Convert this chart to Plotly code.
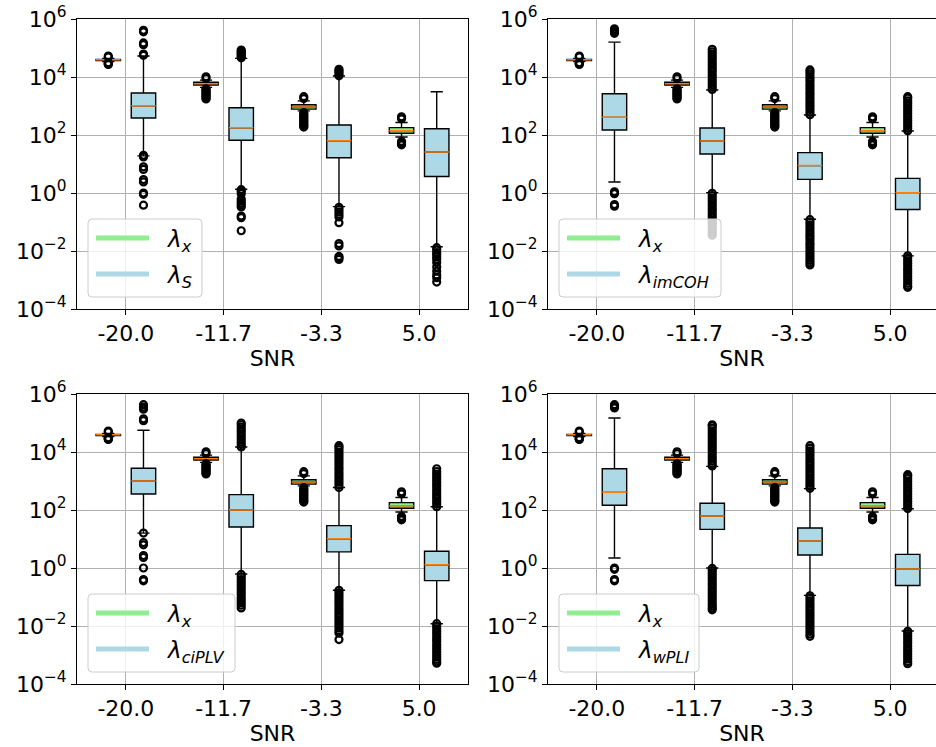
import plotly.graph_objects as go

SNR_LABELS = ["-20.0", "-11.7", "-3.3", "5.0"]

# lambda_x : shared reference distribution (green boxes)
X_Q1 = [3.7e4, 5.3e3, 780, 115]
X_MED = [3.9e4, 5.9e3, 920, 141]
X_Q3 = [4.05e4, 6.6e3, 1100, 180]
X_LOW = [3.4e4, 4.4e3, 680, 85]
X_HIGH = [4.4e4, 7.8e3, 1500, 270]
X_OUT = [
    [5.3e4, 4.9e4, 3.1e4, 2.95e4, 2.8e4, 2.7e4],
    [1.02e4, 8.8e3, 3.9e3, 3.6e3, 3.3e3, 3.0e3, 2.75e3, 2.5e3, 2.3e3, 2.1e3, 1.9e3, 1.75e3],
    [2.1e3, 1.8e3, 590, 530, 475, 425, 385, 345, 310, 280, 250, 225, 205, 188],
    [425, 360, 60, 55, 50, 46],
]

# lambda_S
S_Q1 = [385, 66, 16.5, 3.7]
S_MED = [1020, 178, 63, 26]
S_Q3 = [2800, 870, 221, 165]
S_LOW = [19, 1.34, 0.34, 0.014]
S_HIGH = [5.3e4, 4.4e4, 1.08e4, 3100]
S_OUT = [
    [5.6e4, 6.2e4, 1.3e5, 1.5e5, 3.6e5, 4.1e5, 20, 17.5, 8.0, 6.5, 2.9, 2.4, 1.0, 0.9, 0.38],
    [4.6e4, 5.1e4, 5.7e4, 6.3e4, 7.0e4, 7.7e4, 8.5e4, 1.3, 1.15, 0.95, 0.62, 0.52, 0.44, 0.38, 0.33,
     0.16, 0.14, 0.05],
    [1.1e4, 1.25e4, 1.45e4, 1.65e4, 1.85e4, 0.32, 0.27, 0.22, 0.18, 0.15, 0.095, 0.018, 0.015,
     0.0065, 0.0058, 0.0051],
    [0.013, 0.011, 0.0088, 0.0075, 0.0062, 0.0052, 0.004, 0.0028, 0.002, 0.0015, 0.0012, 0.00085],
]

# lambda_imCOH
IMCOH_Q1 = [149, 22, 2.96, 0.27]
IMCOH_MED = [406, 62, 8.8, 1.03]
IMCOH_Q3 = [2660, 174, 24.6, 3.2]
IMCOH_LOW = [2.4, 1.03, 0.124, 0.0068]
IMCOH_HIGH = [1.6e5, 3570, 490, 137]
IMCOH_OUT = [
    [3.2e5, 3.6e5, 4.1e5, 4.6e5, 1.1, 0.95, 0.4, 0.35],
    [3.7e3, 4.4e3, 5.4e3, 6.6e3, 8.1e3, 1.0e4, 1.2e4, 1.5e4, 1.8e4, 2.2e4, 2.7e4, 3.3e4, 4.1e4,
     5.0e4, 6.1e4, 7.4e4, 9.0e4,
     0.98, 0.82, 0.67, 0.55, 0.45, 0.37, 0.30, 0.25, 0.2, 0.165, 0.135, 0.11, 0.09, 0.074, 0.06,
     0.05, 0.042, 0.035],
    [500, 610, 750, 920, 1.1e3, 1.35e3, 1.65e3, 2.0e3, 2.5e3, 3.0e3, 3.7e3, 4.5e3, 5.5e3, 6.8e3,
     8.3e3, 1.0e4, 1.25e4, 1.5e4, 1.75e4,
     0.12, 0.098, 0.08, 0.065, 0.053, 0.043, 0.035, 0.029, 0.024, 0.019, 0.016, 0.013, 0.0105,
     0.0086, 0.007, 0.0057, 0.0047, 0.0039, 0.0033],
    [140, 170, 210, 255, 310, 380, 460, 560, 690, 840, 1020, 1250, 1500, 1850, 2100,
     0.0068, 0.0056, 0.0046, 0.0038, 0.0031, 0.0025, 0.0021, 0.0017, 0.0014, 0.00115, 0.00094,
     0.00077, 0.00063, 0.00056],
]

# lambda_ciPLV
CIPLV_Q1 = [356, 26, 3.6, 0.366]
CIPLV_MED = [1000, 100, 10.2, 1.3]
CIPLV_Q3 = [2740, 338, 29, 3.76]
CIPLV_LOW = [16, 0.62, 0.17, 0.012]
CIPLV_HIGH = [5.6e4, 1.49e4, 600, 130]
CIPLV_OUT = [
    [1.2e5, 1.4e5, 3.0e5, 3.5e5, 4.3e5, 16, 7.5, 6.3, 2.7, 2.3, 1.0, 0.4, 0.36],
    [1.5e4, 1.8e4, 2.2e4, 2.7e4, 3.3e4, 4.0e4, 4.9e4, 5.9e4, 7.2e4, 8.7e4, 1.0e5,
     0.6, 0.5, 0.4, 0.33, 0.27, 0.22, 0.18, 0.145, 0.12, 0.095, 0.078, 0.063, 0.052, 0.042],
    [600, 740, 910, 1.1e3, 1.35e3, 1.65e3, 2.0e3, 2.5e3, 3.0e3, 3.7e3, 4.5e3, 5.5e3, 6.7e3,
     8.2e3, 1.0e4, 1.22e4, 1.45e4, 1.65e4,
     0.17, 0.14, 0.115, 0.094, 0.077, 0.063, 0.052, 0.042, 0.034, 0.028, 0.023, 0.019, 0.0155,
     0.0127, 0.0104, 0.0085, 0.0069, 0.0057, 0.0034],
    [130, 160, 195, 240, 290, 350, 430, 520, 640, 780, 950, 1150, 1400, 1700, 2100, 2650,
     0.012, 0.0098, 0.008, 0.0065, 0.0053, 0.0043, 0.0035, 0.0029, 0.0023, 0.0019, 0.00155,
     0.00127, 0.00104, 0.00085, 0.0007, 0.00058, 0.00052],
]

# lambda_wPLI
WPLI_Q1 = [145, 21.5, 2.8, 0.25]
WPLI_MED = [406, 62, 8.5, 0.92]
WPLI_Q3 = [2660, 170, 24, 2.96]
WPLI_LOW = [2.2, 1.0, 0.114, 0.0067]
WPLI_HIGH = [1.49e5, 3200, 545, 111]
WPLI_OUT = [
    [3.3e5, 3.7e5, 4.3e5, 1.0, 0.9, 0.4, 0.36],
    [3.3e3, 3.9e3, 4.8e3, 5.9e3, 7.2e3, 8.8e3, 1.08e4, 1.32e4, 1.6e4, 1.95e4, 2.4e4, 2.9e4, 3.6e4,
     4.4e4, 5.4e4, 6.6e4, 8.0e4, 8.7e4,
     0.97, 0.82, 0.67, 0.55, 0.45, 0.37, 0.3, 0.25, 0.2, 0.165, 0.135, 0.11, 0.09, 0.074, 0.06,
     0.05, 0.042, 0.036],
    [560, 670, 820, 1.0e3, 1.22e3, 1.5e3, 1.83e3, 2.2e3, 2.7e3, 3.3e3, 4.0e3, 4.9e3, 6.0e3, 7.4e3,
     9.0e3, 1.1e4, 1.35e4, 1.65e4,
     0.11, 0.09, 0.074, 0.06, 0.049, 0.04, 0.033, 0.027, 0.022, 0.018, 0.0147, 0.012, 0.0098,
     0.008, 0.0065, 0.0053, 0.0044],
    [112, 136, 165, 200, 245, 300, 365, 445, 540, 660, 800, 980, 1200, 1450, 1650,
     0.0066, 0.0055, 0.0045, 0.0037, 0.003, 0.0025, 0.002, 0.00165, 0.00135, 0.0011, 0.0009,
     0.00074, 0.0006, 0.0005],
]

GREEN = "#90ee90"
BLUE = "#add8e6"
ORANGE = "#ff7f0e"
FONT = "DejaVu Sans"

# figure geometry (pixels)
FIG_W, FIG_H = 936, 747
COL_X = [(77, 468), (548, 936)]
ROW_Y = [(19, 309), (394, 684)]
PX_PER_UNIT = 97.75
OFFSET = 0.18
BOX_W = 0.25

panels = [
    (0, 0, "S", (S_Q1, S_MED, S_Q3, S_LOW, S_HIGH, S_OUT), 125),
    (0, 1, "imCOH", (IMCOH_Q1, IMCOH_MED, IMCOH_Q3, IMCOH_LOW, IMCOH_HIGH, IMCOH_OUT), 173),
    (1, 0, "ciPLV", (CIPLV_Q1, CIPLV_MED, CIPLV_Q3, CIPLV_LOW, CIPLV_HIGH, CIPLV_OUT), 158),
    (1, 1, "wPLI", (WPLI_Q1, WPLI_MED, WPLI_Q3, WPLI_LOW, WPLI_HIGH, WPLI_OUT), 151),
]
x_stats = (X_Q1, X_MED, X_Q3, X_LOW, X_HIGH, X_OUT)

fig = go.Figure()
layout = dict(
    width=FIG_W, height=FIG_H,
    margin=dict(l=0, r=0, t=0, b=0),
    paper_bgcolor="white", plot_bgcolor="white",
    showlegend=False, boxmode="overlay",
    font=dict(family=FONT, size=22, color="black"),
)
shapes, annotations = [], []


def rounded_path(x0, y0, x1, y1, rx, ry):
    return (f"M{x0 + rx},{y0} L{x1 - rx},{y0} Q{x1},{y0} {x1},{y0 + ry} "
            f"L{x1},{y1 - ry} Q{x1},{y1} {x1 - rx},{y1} L{x0 + rx},{y1} "
            f"Q{x0},{y1} {x0},{y1 - ry} L{x0},{y0 + ry} Q{x0},{y0} {x0 + rx},{y0} Z")


def add_series(stats, shift, fill, xa, ya):
    q1, med, q3, low, high, outs = stats
    pos = [i + 1 + shift for i in range(len(SNR_LABELS))]
    fig.add_trace(go.Box(
        x=pos, q1=q1, median=med, q3=q3, lowerfence=low, upperfence=high,
        width=BOX_W, whiskerwidth=0.5, fillcolor=fill,
        line=dict(color="black", width=1.4), boxpoints=False,
        xaxis=xa, yaxis=ya, hoverinfo="skip"))
    # orange median bar
    fig.add_trace(go.Box(
        x=pos, q1=med, median=med, q3=med, lowerfence=med, upperfence=med,
        width=BOX_W, whiskerwidth=0, fillcolor="rgba(0,0,0,0)",
        line=dict(color=ORANGE, width=1.5), boxpoints=False,
        xaxis=xa, yaxis=ya, hoverinfo="skip"))
    ox, oy = [], []
    for p, vals in zip(pos, outs):
        ox += [p] * len(vals)
        oy += vals
    return ox, oy


for idx, (r, c, name, stats, legend_w) in enumerate(panels):
    n = idx + 1
    xa = "x" if n == 1 else f"x{n}"
    ya = "y" if n == 1 else f"y{n}"
    x0px, x1px = COL_X[c]
    ytop, ybot = ROW_Y[r]
    width_px = x1px - x0px
    height_px = ybot - ytop
    x_hi = 0.5 + width_px / PX_PER_UNIT

    gx, gy = add_series(x_stats, -OFFSET, GREEN, xa, ya)
    bx, by = add_series(stats, OFFSET, BLUE, xa, ya)
    fig.add_trace(go.Scatter(
        x=gx + bx, y=gy + by, mode="markers", xaxis=xa, yaxis=ya,
        marker=dict(symbol="circle-open", size=7, color="black",
                    line=dict(width=2.2, color="black")),
        hoverinfo="skip"))

    xkey = "xaxis" if n == 1 else f"xaxis{n}"
    ykey = "yaxis" if n == 1 else f"yaxis{n}"
    layout[xkey] = dict(
        domain=[x0px / FIG_W, x1px / FIG_W], anchor=ya, range=[0.5, x_hi],
        tickmode="array", tickvals=[1, 2, 3, 4], ticktext=SNR_LABELS,
        ticks="outside", ticklen=5, tickwidth=1, tickcolor="black",
        showgrid=True, gridcolor="#b0b0b0", gridwidth=1,
        showline=True, linecolor="black", linewidth=1, mirror=True,
        zeroline=False, automargin=False,
        tickfont=dict(size=22), title=dict(text="SNR", font=dict(size=22), standoff=3))
    layout[ykey] = dict(
        domain=[(FIG_H - ybot) / FIG_H, (FIG_H - ytop) / FIG_H], anchor=xa,
        type="log", range=[-4, 6],
        tickmode="array", tickvals=[1e-4, 1e-2, 1, 1e2, 1e4, 1e6],
        ticktext=["10<sup>\u22124</sup>", "10<sup>\u22122</sup>", "10<sup>0</sup>",
                  "10<sup>2</sup>", "10<sup>4</sup>", "10<sup>6</sup>"],
        ticks="outside", ticklen=5, tickwidth=1, tickcolor="black",
        showgrid=True, gridcolor="#b0b0b0", gridwidth=1,
        showline=True, linecolor="black", linewidth=1, mirror=(c == 0),
        zeroline=False, automargin=False, tickfont=dict(size=22))

    # legend panel
    fx = lambda px: px / width_px
    fy = lambda px: px / height_px
    xd, yd = f"{xa} domain", f"{ya} domain"
    shapes.append(dict(
        type="path", xref=xd, yref=yd, layer="above",
        path=rounded_path(fx(11), fy(12), fx(legend_w), fy(90), fx(4), fy(4)),
        fillcolor="rgba(255,255,255,0.8)", line=dict(color="#cccccc", width=1)))
    for ypx, col, label in [(71, GREEN, "<i>\u03bb</i><sub><i>x</i></sub>"),
                            (35, BLUE, f"<i>\u03bb</i><sub><i>{name}</i></sub>")]:
        shapes.append(dict(
            type="line", xref=xd, yref=yd, layer="above",
            x0=fx(19), x1=fx(72), y0=fy(ypx), y1=fy(ypx),
            line=dict(color=col, width=5)))
        annotations.append(dict(
            xref=xd, yref=yd, x=fx(87), y=fy(ypx - 3), xanchor="left", yanchor="middle",
            text=label, showarrow=False, font=dict(size=23, color="black")))

layout["shapes"] = shapes
layout["annotations"] = annotations
fig.update_layout(**layout)
fig.write_html("out.html")
